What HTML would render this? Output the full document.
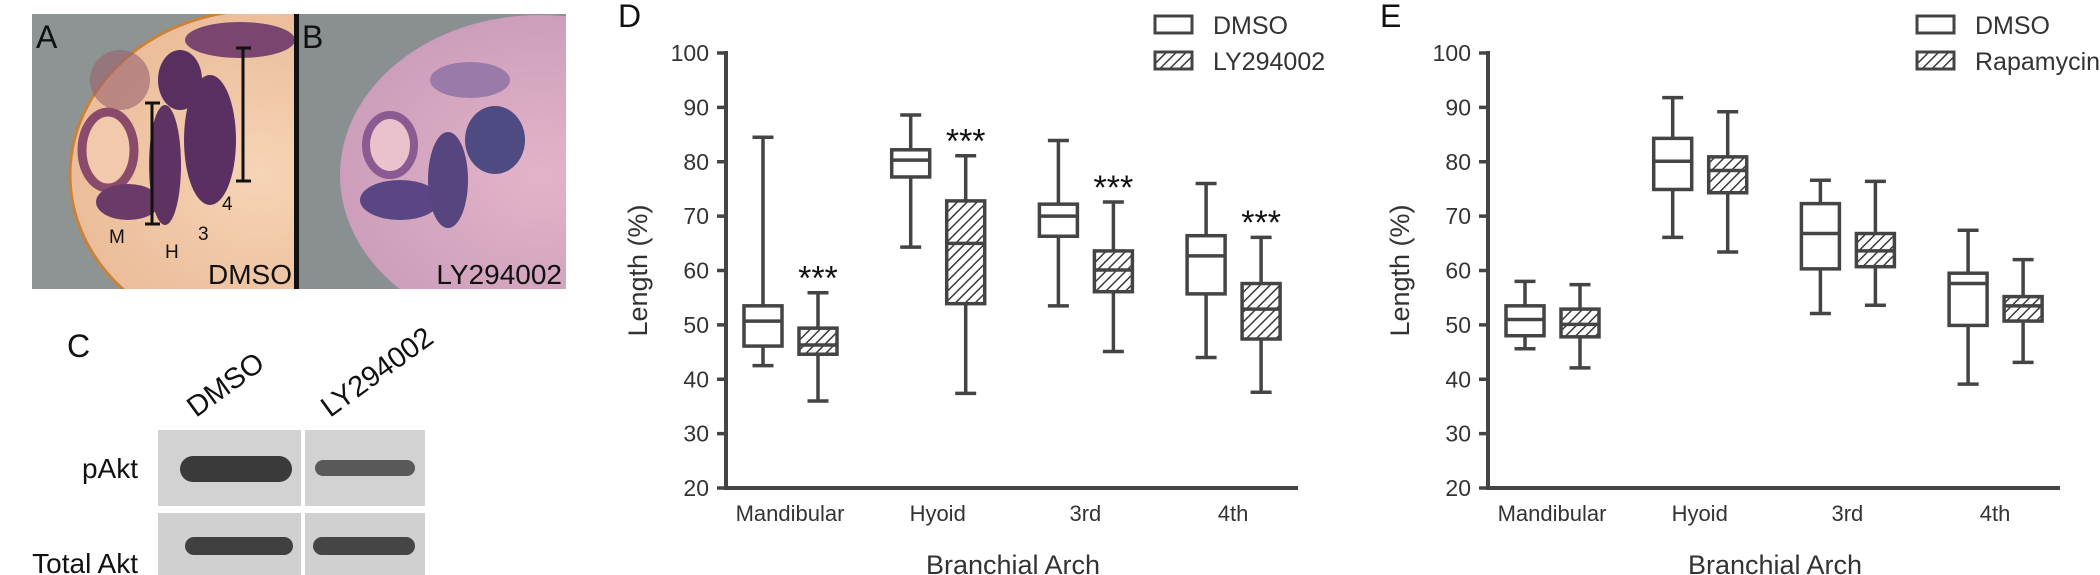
<!DOCTYPE html>
<html><head><meta charset="utf-8"><style>
html,body{margin:0;padding:0;background:#fff;}
body{width:2100px;height:575px;overflow:hidden;position:relative;font-family:"Liberation Sans",sans-serif;}
svg{position:absolute;left:0;top:0;}
</style></head><body>
<svg id="fig" width="2100" height="575" viewBox="0 0 2100 575" xmlns="http://www.w3.org/2000/svg">
<defs>
<pattern id="hatch" patternUnits="userSpaceOnUse" width="7" height="7" patternTransform="rotate(45)">
<rect width="7" height="7" fill="#fff"/><line x1="0" y1="0" x2="0" y2="7" stroke="#3a3a3a" stroke-width="3"/>
</pattern>
<radialGradient id="embA" cx="0.5" cy="0.5" r="0.6"><stop offset="0" stop-color="#f6d4b6"/><stop offset="1" stop-color="#e9b894"/></radialGradient>
<radialGradient id="embB" cx="0.5" cy="0.5" r="0.6"><stop offset="0" stop-color="#e3b4c8"/><stop offset="1" stop-color="#c89ab8"/></radialGradient>
<clipPath id="clipA"><rect x="32" y="14" width="263" height="275"/></clipPath>
<clipPath id="clipB"><rect x="299" y="14" width="267" height="275"/></clipPath>
</defs>

<g clip-path="url(#clipA)">
<rect x="32" y="14" width="263" height="275" fill="#8e9494"/>
<ellipse cx="260" cy="175" rx="190" ry="165" fill="url(#embA)" stroke="#c8823a" stroke-width="3"/>
<ellipse cx="108" cy="150" rx="26" ry="38" fill="#f2c9ad" stroke="#8a4a6a" stroke-width="9"/>
<ellipse cx="128" cy="202" rx="32" ry="18" fill="#6a3a68"/>
<ellipse cx="165" cy="165" rx="16" ry="60" fill="#5e3362"/>
<ellipse cx="180" cy="80" rx="22" ry="30" fill="#583060"/>
<ellipse cx="210" cy="140" rx="26" ry="65" fill="#5a3062"/>
<ellipse cx="240" cy="40" rx="55" ry="18" fill="#7a4670"/>
<ellipse cx="120" cy="80" rx="30" ry="30" fill="#9a6070" opacity="0.6"/>
</g>
<g stroke="#111" stroke-width="3">
<line x1="152" y1="103" x2="152" y2="224"/><line x1="145" y1="103" x2="160" y2="103"/><line x1="145" y1="224" x2="160" y2="224"/>
<line x1="243" y1="48" x2="243" y2="181"/><line x1="236" y1="48" x2="251" y2="48"/><line x1="236" y1="181" x2="251" y2="181"/>
</g>
<text x="36" y="48" font-size="32" fill="#111">A</text>
<text x="109" y="243" font-size="19" fill="#111">M</text>
<text x="165" y="258" font-size="19" fill="#111">H</text>
<text x="198" y="240" font-size="19" fill="#111">3</text>
<text x="222" y="210" font-size="19" fill="#111">4</text>
<text x="292" y="284" font-size="28" fill="#111" text-anchor="end">DMSO</text>
<rect x="294" y="14" width="5" height="275" fill="#111"/>

<g clip-path="url(#clipB)">
<rect x="299" y="14" width="267" height="275" fill="#8a8f92"/>
<ellipse cx="540" cy="175" rx="200" ry="160" fill="url(#embB)"/>
<ellipse cx="390" cy="145" rx="24" ry="30" fill="#e9c2cc" stroke="#8a5a90" stroke-width="8"/>
<ellipse cx="400" cy="200" rx="40" ry="20" fill="#5a4684"/>
<ellipse cx="448" cy="180" rx="20" ry="48" fill="#56457f"/>
<ellipse cx="495" cy="140" rx="30" ry="34" fill="#4e4a82"/>
<ellipse cx="470" cy="80" rx="40" ry="18" fill="#9a7aa8"/>
</g>
<text x="302" y="48" font-size="32" fill="#111">B</text>
<text x="562" y="284" font-size="28" fill="#111" text-anchor="end">LY294002</text>

<text x="67" y="357" font-size="32" fill="#111">C</text>
<text x="0" y="0" font-size="29" fill="#111" transform="translate(196,418) rotate(-36)">DMSO</text>
<text x="0" y="0" font-size="29" fill="#111" transform="translate(330,418) rotate(-36)">LY294002</text>
<text x="138" y="478" font-size="28" fill="#111" text-anchor="end">pAkt</text>
<text x="138" y="573" font-size="28" fill="#111" text-anchor="end">Total Akt</text>
<g>
<rect x="158" y="430" width="143" height="76" fill="#d2d2d2"/>
<rect x="305" y="430" width="120" height="76" fill="#d2d2d2"/>
<rect x="158" y="513" width="143" height="70" fill="#d0d0d0"/>
<rect x="305" y="513" width="120" height="70" fill="#d0d0d0"/>
<rect x="180" y="456" width="112" height="26" rx="13" fill="#3a3a3a"/>
<rect x="315" y="460" width="100" height="16" rx="8" fill="#595959"/>
<rect x="185" y="537" width="108" height="18" rx="9" fill="#404040"/>
<rect x="313" y="537" width="102" height="18" rx="9" fill="#454545"/>
</g>
<g id="charts"></g>
</svg>
<script>
var categories = ["Mandibular","Hyoid","3rd","4th"];
var tickValues = [20,30,40,50,60,70,80,90,100];
// [min, q1, median, q3, max]
var dDmso = [[42.5,46.1,50.7,53.5,84.5],[64.3,77.2,80.3,82.2,88.6],[53.5,66.3,70.0,72.2,83.9],[44.0,55.7,62.7,66.4,76.0]];
var dLy = [[36.0,44.6,46.3,49.4,55.9],[37.4,53.9,65.0,72.8,81.1],[45.1,56.1,60.1,63.6,72.6],[37.6,47.4,52.9,57.6,66.1]];
var dStars = ["***","***","***","***"];
var eDmso = [[45.6,48.0,51.0,53.5,58.0],[66.1,74.9,80.1,84.3,91.8],[52.1,60.3,66.8,72.3,76.6],[39.1,49.9,57.6,59.5,67.4]];
var eRap = [[42.1,47.8,50.1,52.9,57.4],[63.4,74.3,78.4,80.9,89.2],[53.6,60.7,63.6,66.8,76.4],[43.1,50.7,53.5,55.2,62.0]];
var eStars = ["","","",""];

var NS = "http://www.w3.org/2000/svg";
var root = document.getElementById("charts");
var C = "#444";
function mk(tag, attrs, parent){ var e=document.createElementNS(NS,tag); for(var k in attrs) e.setAttribute(k,attrs[k]); (parent||root).appendChild(e); return e; }
function yScale(v){ return 488 - (v-20)*5.4375; }

function drawPanel(ox, letter, legend2, s1, s2, stars, name){
  var g = mk("g",{});
  
  
  function xCat(i){ return ox + 64 + i*147.7; }
  var t = mk("text",{x:ox-108,y:27,"font-size":32,fill:"#111"},g); t.textContent=letter;
  
  
  var ya = mk("line",{x1:ox,y1:yScale(100)-2,x2:ox,y2:yScale(20),stroke:C,"stroke-width":4},g);
  
  
  var xa = mk("line",{x1:ox-2,y1:yScale(20),x2:ox+572,y2:yScale(20),stroke:C,"stroke-width":4},g);
  
  
  tickValues.forEach(function(v){
    var tk = mk("line",{x1:ox-9,y1:yScale(v),x2:ox,y2:yScale(v),stroke:C,"stroke-width":3.5},g);
    
    
    var tl = mk("text",{x:ox-17,y:yScale(v)+8,"font-size":23,fill:"#333","text-anchor":"end"},g);
    tl.textContent = v;
    
    
  });
  categories.forEach(function(c,i){
    var cl = mk("text",{x:xCat(i),y:521,"font-size":22,fill:"#333","text-anchor":"middle"},g);
    cl.textContent = c;
    
    
  });
  var xt = mk("text",{x:ox+287,y:574,"font-size":27,fill:"#333","text-anchor":"middle"},g);
  xt.textContent = "Branchial Arch";
  
  
  var yt = mk("text",{x:0,y:0,"font-size":27,fill:"#333","text-anchor":"middle",transform:"translate("+(ox-79)+","+yScale(60)+") rotate(-90)"},g);
  yt.textContent = "Length (%)";
  
  
  function box(cx, s, fill, bname){
    var bg = mk("g",{},g);
    
    
    var w=38, cw=21;
    mk("line",{x1:cx,y1:yScale(s[4]),x2:cx,y2:yScale(s[0]),stroke:C,"stroke-width":3.5},bg);
    mk("line",{x1:cx-cw/2,y1:yScale(s[4]),x2:cx+cw/2,y2:yScale(s[4]),stroke:C,"stroke-width":3.5},bg);
    mk("line",{x1:cx-cw/2,y1:yScale(s[0]),x2:cx+cw/2,y2:yScale(s[0]),stroke:C,"stroke-width":3.5},bg);
    mk("rect",{x:cx-w/2,y:yScale(s[3]),width:w,height:yScale(s[1])-yScale(s[3]),fill:fill,stroke:C,"stroke-width":3.5},bg);
    mk("line",{x1:cx-w/2,y1:yScale(s[2]),x2:cx+w/2,y2:yScale(s[2]),stroke:C,"stroke-width":3.5},bg);
  }
  categories.forEach(function(c,i){
    box(xCat(i)-27, s1[i], "#fff", "box-dmso-"+i);
    box(xCat(i)+28, s2[i], "url(#hatch)", "box-treated-"+i);
    if(stars[i]){
      var st = mk("text",{x:xCat(i)+28,y:yScale(s2[i][4]+3.9)+18,"font-size":34,fill:"#111","text-anchor":"middle"},g);
      st.textContent = stars[i];
      
      
    }
  });
  var lg = mk("g",{},g);
  
  
  mk("rect",{x:ox+429,y:16,width:37,height:17,fill:"#fff",stroke:C,"stroke-width":3},lg);
  mk("rect",{x:ox+429,y:52,width:37,height:17,fill:"url(#hatch)",stroke:C,"stroke-width":3},lg);
  var l1 = mk("text",{x:ox+487,y:34,"font-size":25,fill:"#333"},lg); l1.textContent="DMSO";
  
  
  var l2 = mk("text",{x:ox+487,y:70,"font-size":25,fill:"#333"},lg); l2.textContent=legend2;
  
  
}
drawPanel(726, "D", "LY294002", dDmso, dLy, dStars, "chart-d");
drawPanel(1488, "E", "Rapamycin", eDmso, eRap, eStars, "chart-e");
</script>
</body></html>
